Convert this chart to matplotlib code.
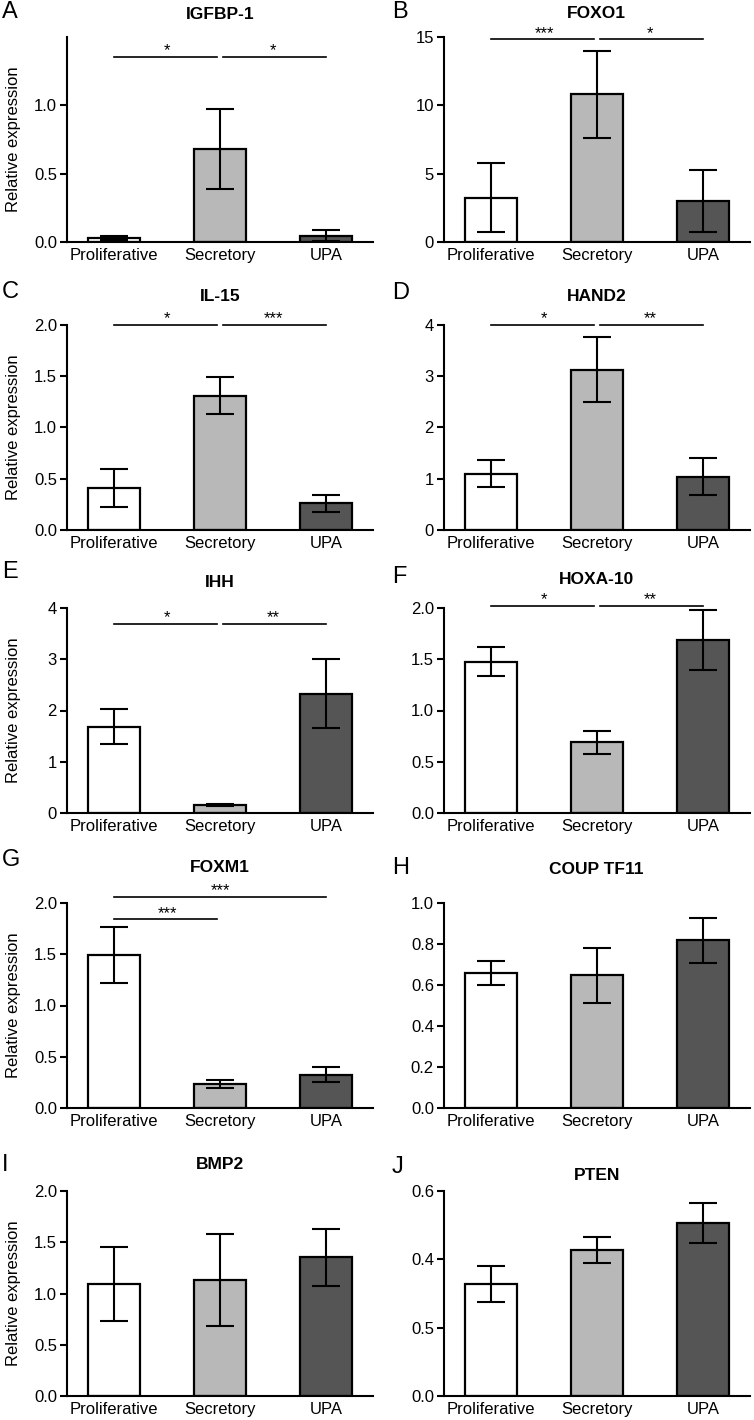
import matplotlib
matplotlib.use("Agg")
import matplotlib.pyplot as plt

plt.rcParams['font.family'] = ['Liberation Sans', 'DejaVu Sans']

# data
groups = ["Proliferative", "Secretory", "UPA"]
bar_colors = ["#ffffff", "#b8b8b8", "#555555"]

igfbp1_mean = [0.03, 0.68, 0.046]
igfbp1_err = [0.012, 0.29, 0.042]
foxo1_mean = [3.25, 10.8, 3.0]
foxo1_err = [2.5, 3.2, 2.3]
il15_mean = [0.41, 1.31, 0.26]
il15_err = [0.185, 0.18, 0.085]
hand2_mean = [1.10, 3.13, 1.04]
hand2_err = [0.27, 0.64, 0.36]
ihh_mean = [1.68, 0.157, 2.33]
ihh_err = [0.34, 0.02, 0.68]
hoxa10_mean = [1.477, 0.688, 1.688]
hoxa10_err = [0.14, 0.11, 0.29]
foxm1_mean = [1.493, 0.234, 0.326]
foxm1_err = [0.275, 0.04, 0.07]
couptf_mean = [0.657, 0.647, 0.818]
couptf_err = [0.058, 0.134, 0.11]
bmp2_mean = [1.09, 1.13, 1.353]
bmp2_err = [0.36, 0.45, 0.275]
pten_mean = [0.328, 0.426, 0.506]
pten_err = [0.052, 0.038, 0.059]

titles = ["IGFBP-1", "FOXO1", "IL-15", "HAND2", "IHH",
          "HOXA-10", "FOXM1", "COUP TF11", "BMP2", "PTEN"]
letters = ["A", "B", "C", "D", "E", "F", "G", "H", "I", "J"]

ylims = [1.5, 15, 2.0, 4, 4, 2.0, 2.0, 1.0, 2.0, 0.6]
yticks = [[0, 0.5, 1.0], [0, 5, 10, 15], [0, 0.5, 1.0, 1.5, 2.0],
          [0, 1, 2, 3, 4], [0, 1, 2, 3, 4], [0, 0.5, 1.0, 1.5, 2.0],
          [0, 0.5, 1.0, 1.5, 2.0], [0, 0.2, 0.4, 0.6, 0.8, 1.0],
          [0, 0.5, 1.0, 1.5, 2.0], [0, 0.2, 0.4, 0.6]]
yticklabels = [["0.0", "0.5", "1.0"], ["0", "5", "10", "15"],
               ["0.0", "0.5", "1.0", "1.5", "2.0"], ["0", "1", "2", "3", "4"],
               ["0", "1", "2", "3", "4"], ["0.0", "0.5", "1.0", "1.5", "2.0"],
               ["0.0", "0.5", "1.0", "1.5", "2.0"],
               ["0.0", "0.2", "0.4", "0.6", "0.8", "1.0"],
               ["0.0", "0.5", "1.0", "1.5", "2.0"], ["0.0", "0.5", "0.4", "0.6"]]

# significance brackets: (from group, to group, height, stars)
sig_igfbp1 = [(0, 1, 1.355, "*"), (1, 2, 1.355, "*")]
sig_foxo1 = [(0, 1, 14.83, "***"), (1, 2, 14.83, "*")]
sig_il15 = [(0, 1, 2.0, "*"), (1, 2, 2.0, "***")]
sig_hand2 = [(0, 1, 4.0, "*"), (1, 2, 4.0, "**")]
sig_ihh = [(0, 1, 3.69, "*"), (1, 2, 3.69, "**")]
sig_hoxa10 = [(0, 1, 2.02, "*"), (1, 2, 2.02, "**")]
sig_foxm1 = [(0, 1, 1.84, "***"), (0, 2, 2.06, "***")]

means = [igfbp1_mean, foxo1_mean, il15_mean, hand2_mean, ihh_mean,
         hoxa10_mean, foxm1_mean, couptf_mean, bmp2_mean, pten_mean]
errs = [igfbp1_err, foxo1_err, il15_err, hand2_err, ihh_err,
        hoxa10_err, foxm1_err, couptf_err, bmp2_err, pten_err]
sigs = [sig_igfbp1, sig_foxo1, sig_il15, sig_hand2, sig_ihh,
        sig_hoxa10, sig_foxm1, [], [], []]

# layout (pixels)
W, H = 754, 1420
col_left_px = [66.7, 443.7]
ax_w_px = 306
ax_h_px = 205
row_zero_px = [242, 530, 813, 1108, 1396]
title_pad = [13, 14, 17, 17, 15, 17, 22, 21, 16, 8]
letter_y_px = [12, 12, 292, 293, 572, 577, 860, 868, 1165, 1167]
letter_x_px = [2, 392]

fig = plt.figure(figsize=(W / 100, H / 100), dpi=100)

for i in range(10):
    row, col = i // 2, i % 2
    ax = fig.add_axes([col_left_px[col] / W, 1 - row_zero_px[row] / H,
                       ax_w_px / W, ax_h_px / H])
    x = range(len(groups))
    ax.bar(x, means[i], width=0.49, color=bar_colors, edgecolor="black",
           linewidth=1.6, zorder=2)
    ax.errorbar(x, means[i], yerr=errs[i], fmt="none", ecolor="black",
                elinewidth=1.5, capsize=10, capthick=1.5, zorder=3)

    ax.set_xlim(-0.45, 2.44)
    ax.set_ylim(0, ylims[i])
    ax.set_yticks(yticks[i])
    ax.set_yticklabels(yticklabels[i])
    ax.set_xticks(list(x))
    ax.set_xticklabels(groups)
    ax.tick_params(axis="y", direction="out", length=5, width=1.5,
                   labelsize=12, pad=2)
    ax.tick_params(axis="x", length=0, labelsize=12, pad=4)
    for s in ["top", "right"]:
        ax.spines[s].set_visible(False)
    for s in ["left", "bottom"]:
        ax.spines[s].set_linewidth(1.5)

    ax.set_title(titles[i], fontsize=12.5, fontweight="bold", pad=title_pad[i])
    if col == 0:
        ax.set_ylabel("Relative expression", fontsize=12)
        ax.yaxis.set_label_coords(-0.15, 0.5)

    for (a, b, y, stars) in sigs[i]:
        x1 = a + (0.03 if a == 1 else 0)
        x2 = b - (0.03 if b == 1 else 0)
        ax.plot([x1, x2], [y, y], color="black", linewidth=1.2,
                clip_on=False, zorder=4)
        ax.annotate(stars, xy=((a + b) / 2, y), xytext=(0, 1),
                    textcoords="offset points", ha="center", va="baseline",
                    fontsize=12, annotation_clip=False)

    fig.text(letter_x_px[col] / W, 1 - letter_y_px[i] / H, letters[i],
             fontsize=17, ha="left", va="center")

fig.savefig("out.png", dpi=100)
